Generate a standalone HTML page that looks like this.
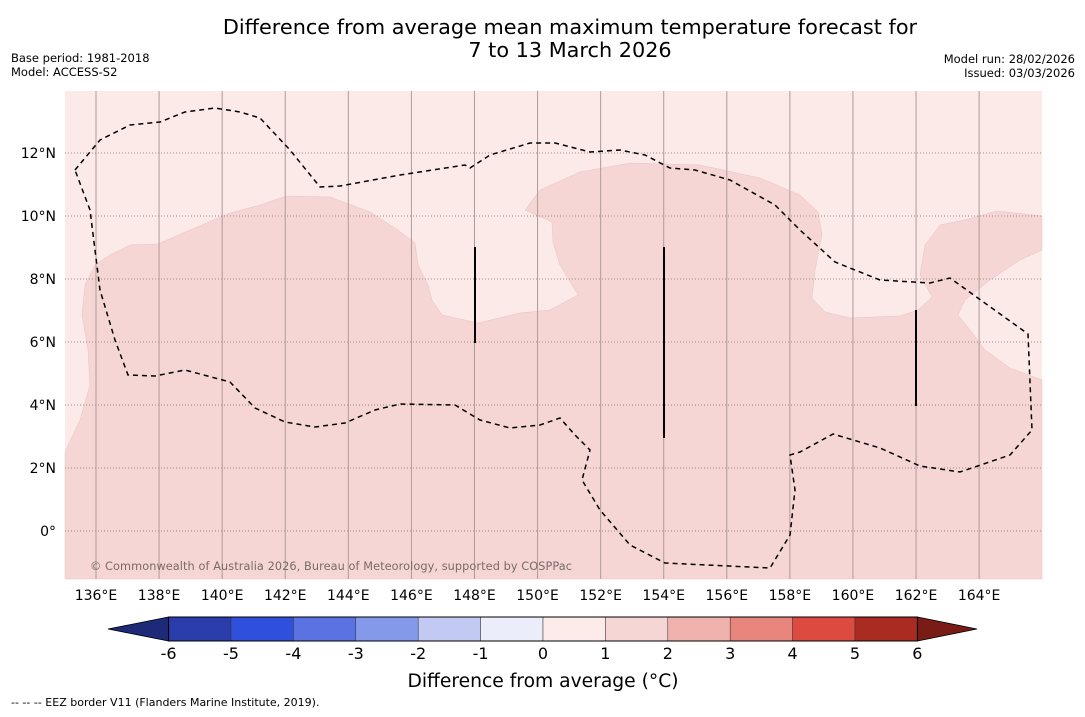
<!DOCTYPE html>
<html><head><meta charset="utf-8"><style>
body{margin:0;background:#fff;width:1085px;height:713px;overflow:hidden;font-family:"DejaVu Sans","Liberation Sans",sans-serif}
</style></head><body>
<svg width="1085" height="713" xmlns="http://www.w3.org/2000/svg">
<text x="570" y="34" text-anchor="middle" font-size="20.8">Difference from average mean maximum temperature forecast for</text>
<text x="570" y="57" text-anchor="middle" font-size="20.8">7 to 13 March 2026</text>
<text x="11" y="62" font-size="11.5">Base period: 1981-2018</text>
<text x="11" y="76" font-size="11.5">Model: ACCESS-S2</text>
<text x="1075" y="63" font-size="11.5" text-anchor="end">Model run: 28/02/2026</text>
<text x="1075" y="77" font-size="11.5" text-anchor="end">Issued: 03/03/2026</text>
<g id="map">
<rect x="65" y="91" width="977" height="488" fill="#fbeae8"/>
<polygon id="dark" fill="#f5d6d4" stroke="#e8c4c2" stroke-width="0.5"/>
<g id="grid"></g>
<polyline id="eez" fill="none" stroke="#000" stroke-width="1.5" stroke-dasharray="5,4"/>
<line x1="475" y1="247" x2="475" y2="343" stroke="#000" stroke-width="2"/>
<line x1="664" y1="247" x2="664" y2="438" stroke="#000" stroke-width="2"/>
<line x1="916" y1="310" x2="916" y2="406" stroke="#000" stroke-width="2"/>
<text x="90" y="570" font-size="11.3" fill="#7a6a6a" textLength="482">© Commonwealth of Australia 2026, Bureau of Meteorology, supported by COSPPac</text>
</g>
<g id="xticks"></g><g id="yticks"></g>
<g id="cbar"></g>
<text x="543" y="687" text-anchor="middle" font-size="18.7">Difference from average (°C)</text>
<text x="11" y="706" font-size="11">--  --  -- EEZ border V11 (Flanders Marine Institute, 2019).</text>
</svg>
<script>
const lonTicks=[136,138,140,142,144,146,148,150,152,154,156,158,160,162,164];
const latTicks=[0,2,4,6,8,10,12];
const cbarTicks=[-6,-5,-4,-3,-2,-1,0,1,2,3,4,5,6];
const cbarColors=["#2a3daa","#2f4fdd","#5a72e2","#8499ea","#c2c9f3","#ebedfa","#fcebe9","#f6d6d4","#efb2ac","#e8857d","#dc4a40","#a92b22"];
const extLow="#1c2a78", extHigh="#7a1c16";
const darkPts=[[65,452],[80,420],[90,385],[88,350],[82,315],[85,285],[95,265],[110,255],[130,245],[158,244],[190,230],[230,213],[260,205],[287,196],[330,197],[370,212],[395,228],[415,243],[418,265],[428,285],[432,300],[442,315],[478,323],[520,313],[550,310],[578,295],[560,265],[553,242],[552,222],[525,210],[540,190],[580,172],[630,163],[700,165],[760,178],[800,195],[818,212],[822,235],[815,270],[812,298],[825,312],[850,318],[900,316],[918,310],[932,297],[920,275],[925,245],[940,225],[965,220],[997,211],[1042,216],[1042,250],[1020,260],[990,280],[965,300],[958,315],[970,330],[985,350],[1010,368],[1042,380],[1042,579],[65,579]];
const eezPts=[[75,170],[100,140],[130,125],[160,122],[185,112],[215,108],[240,112],[260,118],[290,150],[320,187],[340,186],[400,175],[465,165],[470,168],[490,155],[530,143],[555,143],[590,152],[620,150],[645,155],[670,168],[695,170],[730,180],[775,205],[800,230],[835,262],[880,280],[930,283],[950,278],[1028,334],[1032,430],[1010,455],[960,472],[920,466],[880,448],[833,434],[800,452],[790,455],[795,490],[790,535],[770,568],[665,563],[630,545],[600,510],[582,480],[590,450],[575,435],[560,418],[540,425],[510,428],[480,420],[455,405],[400,404],[375,410],[345,423],[315,427],[285,422],[255,408],[230,382],[185,370],[155,376],[128,375],[115,340],[100,290],[90,210],[75,170]];
const NS="http://www.w3.org/2000/svg";
const xS=lon=>96+(lon-136)*31.54;
const yS=lat=>531-lat*31.5;
function mk(t,a,p){const e=document.createElementNS(NS,t);for(const k in a)e.setAttribute(k,a[k]);p.appendChild(e);return e;}
document.getElementById('dark').setAttribute('points',darkPts.map(p=>p.join(',')).join(' '));
document.getElementById('eez').setAttribute('points',eezPts.map(p=>p.join(',')).join(' '));
const grid=document.getElementById('grid'),xt=document.getElementById('xticks'),yt=document.getElementById('yticks');
[...lonTicks,166].forEach(l=>{const x=xS(l);if(x>1041)return;
const g=mk('line',{x1:x,x2:x,y1:91,y2:579,stroke:'#b09a98','stroke-width':1},grid);

});
lonTicks.forEach(l=>{const t=mk('text',{x:xS(l),y:600,'text-anchor':'middle','font-size':14},xt);t.textContent=l+'°E';

});
latTicks.forEach(l=>{const y=yS(l);
const g=mk('line',{x1:65,x2:1042,y1:y,y2:y,stroke:'#a08a88','stroke-width':1,'stroke-dasharray':'1,2'},grid);


const t=mk('text',{x:56,y:y+5,'text-anchor':'end','font-size':14},yt);t.textContent=l===0?'0°':l+'°N';

});
const cb=document.getElementById('cbar');
const cx=v=>543+v*62.4, cy0=617, cy1=641;
const lo=mk('polygon',{points:`${cx(-6)},${cy0} ${cx(-6)},${cy1} 108,629`,fill:extLow,stroke:'#000','stroke-width':0.8},cb);


const hi=mk('polygon',{points:`${cx(6)},${cy0} ${cx(6)},${cy1} 977,629`,fill:extHigh,stroke:'#000','stroke-width':0.8},cb);


cbarColors.forEach((c,i)=>{const v=cbarTicks[i];
const r=mk('rect',{x:cx(v),y:cy0,width:cx(v+1)-cx(v),height:cy1-cy0,fill:c,stroke:'#333','stroke-width':0.5},cb);

});
mk('rect',{x:cx(-6),y:cy0,width:cx(6)-cx(-6),height:cy1-cy0,fill:'none',stroke:'#000','stroke-width':1},cb);
cbarTicks.forEach(v=>{const t=mk('text',{x:cx(v),y:659,'text-anchor':'middle','font-size':16},cb);t.textContent=v;

});
</script>
</body></html>
